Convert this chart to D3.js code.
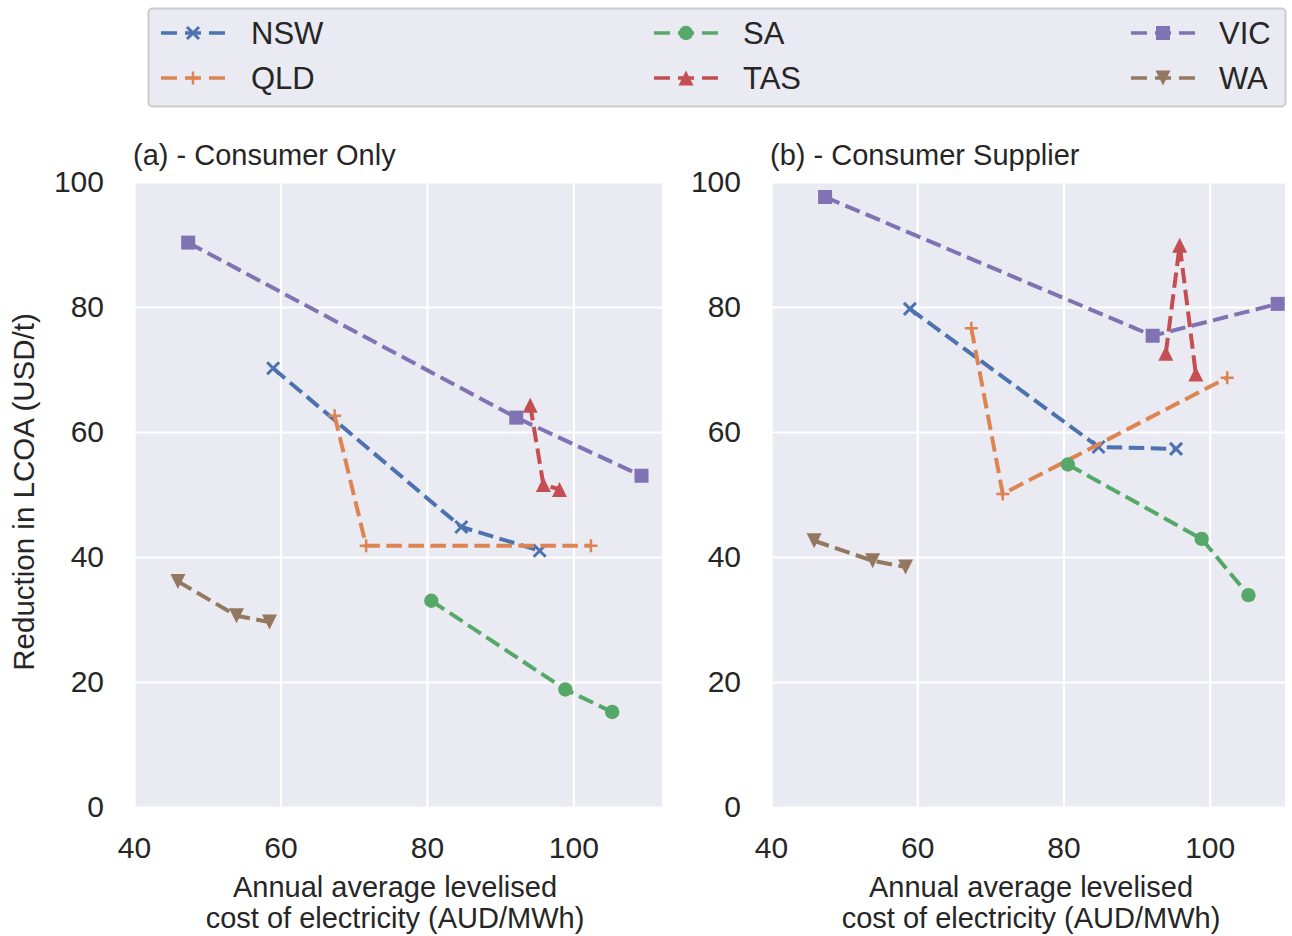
<!DOCTYPE html>
<html>
<head>
<meta charset="utf-8">
<script src="https://cdn.jsdelivr.net/npm/d3@7"></script>
<style>
  html, body { margin: 0; padding: 0; background: #ffffff; }
  svg { display: block; }
  text { font-family: "Liberation Sans", Arial, "DejaVu Sans", sans-serif; fill: #262626; }
</style>
</head>
<body>
<svg id="chart" width="1292" height="936"></svg>
<script>
// ---------------- Data ----------------
const states = ["NSW", "QLD", "SA", "TAS", "VIC", "WA"];
const panelTitles = ["(a) - Consumer Only", "(b) - Consumer Supplier"];
const xTicks = [40, 60, 80, 100];
const yTicks = [0, 20, 40, 60, 80, 100];
const yLabel = "Reduction in LCOA (USD/t)";
const xLabelLines = ["Annual average levelised", "cost of electricity (AUD/MWh)"];

// Panel (a) - Consumer Only : x = levelised cost (AUD/MWh), y = reduction (USD/t)
const a_NSW_x = [59.0, 84.7, 95.4];   const a_NSW_y = [70.2, 44.8, 41.0];
const a_QLD_x = [67.4, 71.7, 102.4];  const a_QLD_y = [62.6, 41.8, 41.8];
const a_SA_x  = [80.6, 98.9, 105.3];  const a_SA_y  = [33.0, 18.8, 15.2];
const a_TAS_x = [94.1, 95.9, 98.1];   const a_TAS_y = [64.3, 51.6, 50.8];
const a_VIC_x = [47.4, 92.2, 109.3];  const a_VIC_y = [90.3, 62.3, 53.0];
const a_WA_x  = [46.0, 54.0, 58.5];   const a_WA_y  = [36.1, 30.6, 29.6];

// Panel (b) - Consumer Supplier
const b_NSW_x = [59.0, 84.8, 95.4];   const b_NSW_y = [79.7, 57.6, 57.3];
const b_QLD_x = [67.4, 71.7, 102.4];  const b_QLD_y = [76.6, 50.1, 68.7];
const b_SA_x  = [80.6, 98.9, 105.3];  const b_SA_y  = [54.8, 42.9, 33.9];
const b_TAS_x = [94.0, 95.9, 98.1];   const b_TAS_y = [72.6, 89.9, 69.3];
const b_VIC_x = [47.4, 92.2, 109.3];  const b_VIC_y = [97.6, 75.4, 80.5];
const b_WA_x  = [45.9, 53.9, 58.4];   const b_WA_y  = [42.6, 39.4, 38.4];

const panelA = { NSW: [a_NSW_x, a_NSW_y], QLD: [a_QLD_x, a_QLD_y], SA: [a_SA_x, a_SA_y],
                 TAS: [a_TAS_x, a_TAS_y], VIC: [a_VIC_x, a_VIC_y], WA: [a_WA_x, a_WA_y] };
const panelB = { NSW: [b_NSW_x, b_NSW_y], QLD: [b_QLD_x, b_QLD_y], SA: [b_SA_x, b_SA_y],
                 TAS: [b_TAS_x, b_TAS_y], VIC: [b_VIC_x, b_VIC_y], WA: [b_WA_x, b_WA_y] };

// ---------------- Styles ----------------
const colors = { NSW: "#4c72b0", QLD: "#dd8452", SA: "#55a868", TAS: "#c44e52", VIC: "#8172b3", WA: "#937860" };
const markers = { NSW: "x", QLD: "plus", SA: "circle", TAS: "tri_up", VIC: "square", WA: "tri_down" };
const FONT = "'Liberation Sans', Arial, sans-serif";

const svg = d3.select("#chart");

function drawMarker(g, type, cx, cy, color, s) {
  s = s || 1;
  if (type === "circle") {
    g.append("circle").attr("cx", cx).attr("cy", cy).attr("r", 7.2 * s).attr("fill", color);
  } else if (type === "square") {
    const h = 7 * s;
    g.append("rect").attr("x", cx - h).attr("y", cy - h).attr("width", 2 * h).attr("height", 2 * h).attr("fill", color);
  } else if (type === "tri_up") {
    const h = 7.5 * s;
    g.append("path").attr("d", `M${cx},${cy - h}L${cx - h},${cy + h}L${cx + h},${cy + h}Z`).attr("fill", color);
  } else if (type === "tri_down") {
    const h = 7.5 * s;
    g.append("path").attr("d", `M${cx},${cy + h}L${cx - h},${cy - h}L${cx + h},${cy - h}Z`).attr("fill", color);
  } else if (type === "x") {
    const h = 6 * s;
    g.append("path").attr("d", `M${cx - h},${cy - h}L${cx + h},${cy + h}M${cx - h},${cy + h}L${cx + h},${cy - h}`)
      .attr("stroke", color).attr("stroke-width", 3).attr("fill", "none");
  } else if (type === "plus") {
    const h = 6.5 * s;
    g.append("path").attr("d", `M${cx - h},${cy}L${cx + h},${cy}M${cx},${cy - h}L${cx},${cy + h}`)
      .attr("stroke", color).attr("stroke-width", 2.5).attr("fill", "none");
  }
}

function drawPanel(data, cfg) {
  const x = d3.scaleLinear().domain(cfg.xDomain).range([cfg.left, cfg.right]);
  const y = d3.scaleLinear().domain([0, 100]).range([cfg.bottom, cfg.top]);
  const g = svg.append("g");

  g.append("rect").attr("x", cfg.left).attr("y", cfg.top)
    .attr("width", cfg.right - cfg.left).attr("height", cfg.bottom - cfg.top).attr("fill", "#eaeaf2");

  // grid + tick labels
  const gx = g.append("g").attr("transform", `translate(0,${cfg.bottom})`)
    .call(d3.axisBottom(x).tickValues(xTicks).tickSize(-(cfg.bottom - cfg.top)).tickPadding(30).tickFormat(d3.format("d")));
  gx.select(".domain").remove();
  gx.selectAll("line").attr("stroke", "#ffffff").attr("stroke-width", 2.2);
  gx.selectAll("text").attr("font-size", 30).attr("fill", "#262626").attr("font-family", FONT);

  const gy = g.append("g").attr("transform", `translate(${cfg.left},0)`)
    .call(d3.axisLeft(y).tickValues(yTicks).tickSize(-(cfg.right - cfg.left)).tickPadding(30).tickFormat(d3.format("d")));
  gy.select(".domain").remove();
  gy.selectAll("line").attr("stroke", "#ffffff").attr("stroke-width", 2.2);
  gy.selectAll("text").attr("font-size", 30).attr("fill", "#262626").attr("font-family", FONT);

  // series
  const line = d3.line().x(d => x(d[0])).y(d => y(d[1]));
  states.forEach(st => {
    const xs = data[st][0], ys = data[st][1];
    const pts = xs.map((v, i) => [v, ys[i]]);
    const sg = g.append("g");
    sg.append("path").attr("d", line(pts)).attr("fill", "none")
      .attr("stroke", colors[st]).attr("stroke-width", 4).attr("stroke-dasharray", "15.5,6.5");
    pts.forEach(p => drawMarker(sg, markers[st], x(p[0]), y(p[1]), colors[st]));
  });

  // title
  g.append("text").attr("x", cfg.left - 1).attr("y", 165)
    .attr("font-size", 29).text(cfg.title);

  // x label
  xLabelLines.forEach((t, i) => {
    g.append("text").attr("x", cfg.labelX).attr("y", 897 + i * 31).attr("text-anchor", "middle")
      .attr("font-size", 29).text(t);
  });
}

const plotTop = 182, plotBottom = 807;
drawPanel(panelA, { left: 134, right: 662, top: plotTop, bottom: plotBottom, xDomain: [40, 112.1], title: panelTitles[0], labelX: 395 });
drawPanel(panelB, { left: 771, right: 1285, top: plotTop, bottom: plotBottom, xDomain: [40, 110.3], title: panelTitles[1], labelX: 1031 });

// y label
svg.append("text").attr("transform", `translate(34,492) rotate(-90)`)
  .attr("text-anchor", "middle").attr("font-size", 29.5).text(yLabel);

// legend
const lg = svg.append("g");
lg.append("rect").attr("x", 148.5).attr("y", 8.5).attr("width", 1137).attr("height", 98)
  .attr("rx", 4).attr("fill", "#eaeaf2").attr("stroke", "#cccccc").attr("stroke-width", 2);
const colX = [161, 654, 1131];
const textX = [251, 743, 1219];
const rowY = [33, 78];
const legendOrder = [["NSW", "QLD"], ["SA", "TAS"], ["VIC", "WA"]];
legendOrder.forEach((col, ci) => {
  col.forEach((st, ri) => {
    const yy = rowY[ri];
    const x0 = colX[ci];
    lg.append("line").attr("x1", x0).attr("x2", x0 + 64).attr("y1", yy).attr("y2", yy)
      .attr("stroke", colors[st]).attr("stroke-width", 3.5).attr("stroke-dasharray", "16,8");
    drawMarker(lg, markers[st], x0 + 32, yy, colors[st]);
    lg.append("text").attr("x", textX[ci]).attr("y", yy).attr("dy", "0.36em")
      .attr("font-size", 31).text(st);
  });
});
</script>
</body>
</html>
